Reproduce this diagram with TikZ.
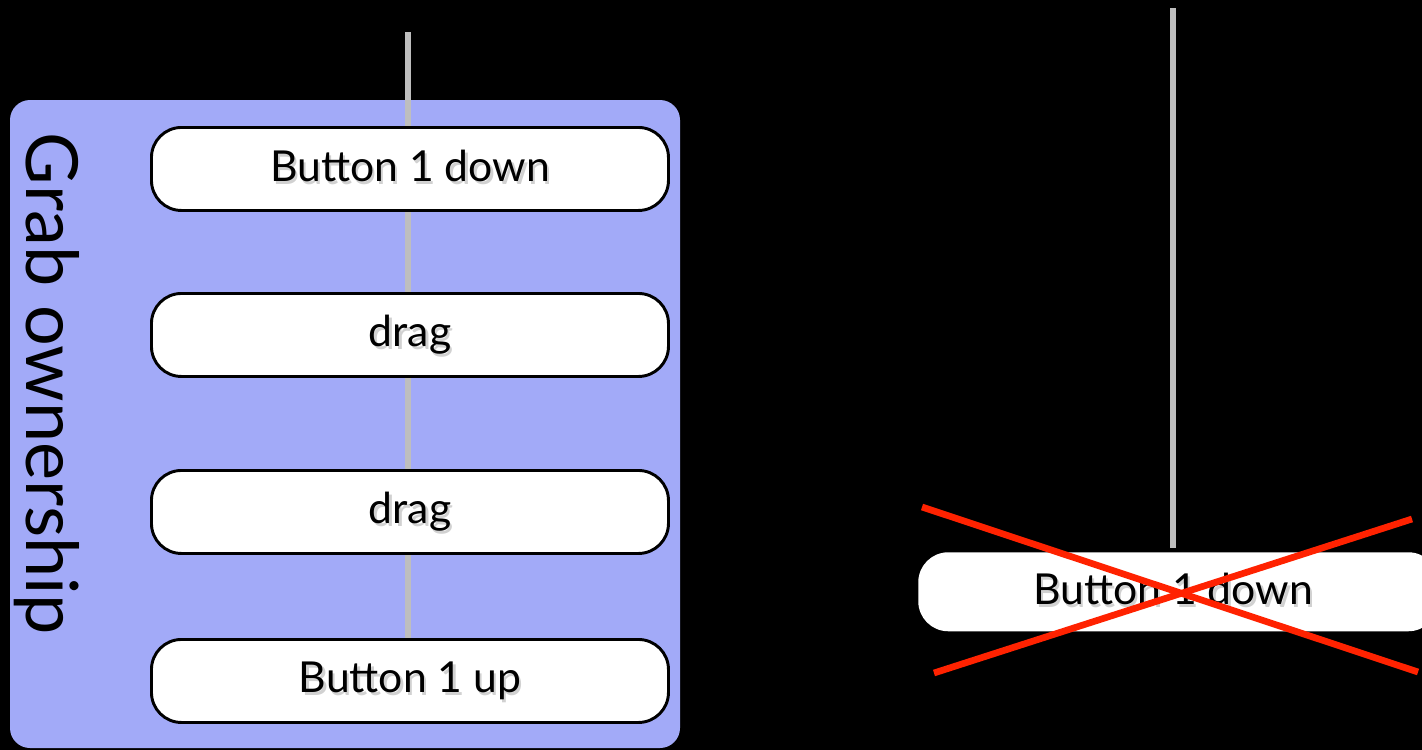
\documentclass[tikz,border=0pt]{standalone}
\usepackage{fontspec}
\setmainfont{Lato}
\definecolor{panelblue}{RGB}{162,170,248}
\definecolor{wire}{RGB}{190,190,190}
\definecolor{crossred}{RGB}{255,34,0}
\pgfdeclarelayer{base}
\pgfdeclarelayer{wires}
\pgfsetlayers{base,wires,main}
\begin{document}
\begin{tikzpicture}[x=0.75pt,y=-0.75pt,
  event/.style={draw=black,line width=2.2pt,fill=white,rounded corners=30*0.75pt,
    minimum width=517*0.75pt,minimum height=83*0.75pt,inner sep=0pt,anchor=north west},
  lbl/.style={font=\fontsize{32}{38}\selectfont,text=black},
  shadowtxt/.style={font=\fontsize{32}{38}\selectfont,text=black,opacity=0.18},
  wireline/.style={draw=wire,line width=4.5pt},
  cross/.style={draw=crossred,line width=5pt}]
\useasboundingbox (0,0) rectangle (1422,750);
\begin{pgfonlayer}{base}
  % background and grab panel
  \fill[black] (0,0) rectangle (1422,750);
  \fill[panelblue,rounded corners=20*0.75pt] (10,100) rectangle (680,748);
\end{pgfonlayer}
\node[font=\fontsize{54}{60}\selectfont,rotate=-90,text=black] (grab) at (47,384) {Grab ownership};
% left event column
\coordinate (topL) at (408,32);
\node[event] (b1) at (150,126) {};
\node[event] (d1) at (150,292) {};
\node[event] (d2) at (150,469) {};
\node[event] (b2) at (150,638) {};
\begin{pgfonlayer}{wires}
  \draw[wireline] (topL) -- (b2.north -| topL);
\end{pgfonlayer}
% labels with soft shadow
\foreach \n/\t/\dy in {b1/{Button 1 down}/3,d1/{drag}/0,d2/{drag}/0,b2/{Button 1 up}/0}{
  \node[shadowtxt] at ([xshift=2.5*0.75pt,yshift=(-2.5+\dy)*0.75pt]\n.center) {\t};
  \node[lbl] at ([yshift=\dy*0.75pt]\n.center) {\t};
}
% right: rejected event
\coordinate (topR) at (1173,8);
\node[fill=white,rounded corners=30*0.75pt,minimum width=520*0.75pt,minimum height=79*0.75pt,
  inner sep=0pt,anchor=north west] (rb) at (918,552) {};
\begin{pgfonlayer}{wires}
  \draw[wireline] (topR) -- ([yshift=4*0.75pt]rb.north -| topR);
\end{pgfonlayer}
\node[lbl] (rt) at (1173,589) {Button 1 down};
\node[shadowtxt] at ([xshift=2.5*0.75pt,yshift=-2.5*0.75pt]rt.center) {Button 1 down};
\coordinate (x1) at (922,507);
\coordinate (x2) at (1418,672);
\coordinate (x3) at (934,673);
\coordinate (x4) at (1412,519);
\draw[cross] (x1) -- (x2);
\draw[cross] (x3) -- (x4);
\end{tikzpicture}
\end{document}
